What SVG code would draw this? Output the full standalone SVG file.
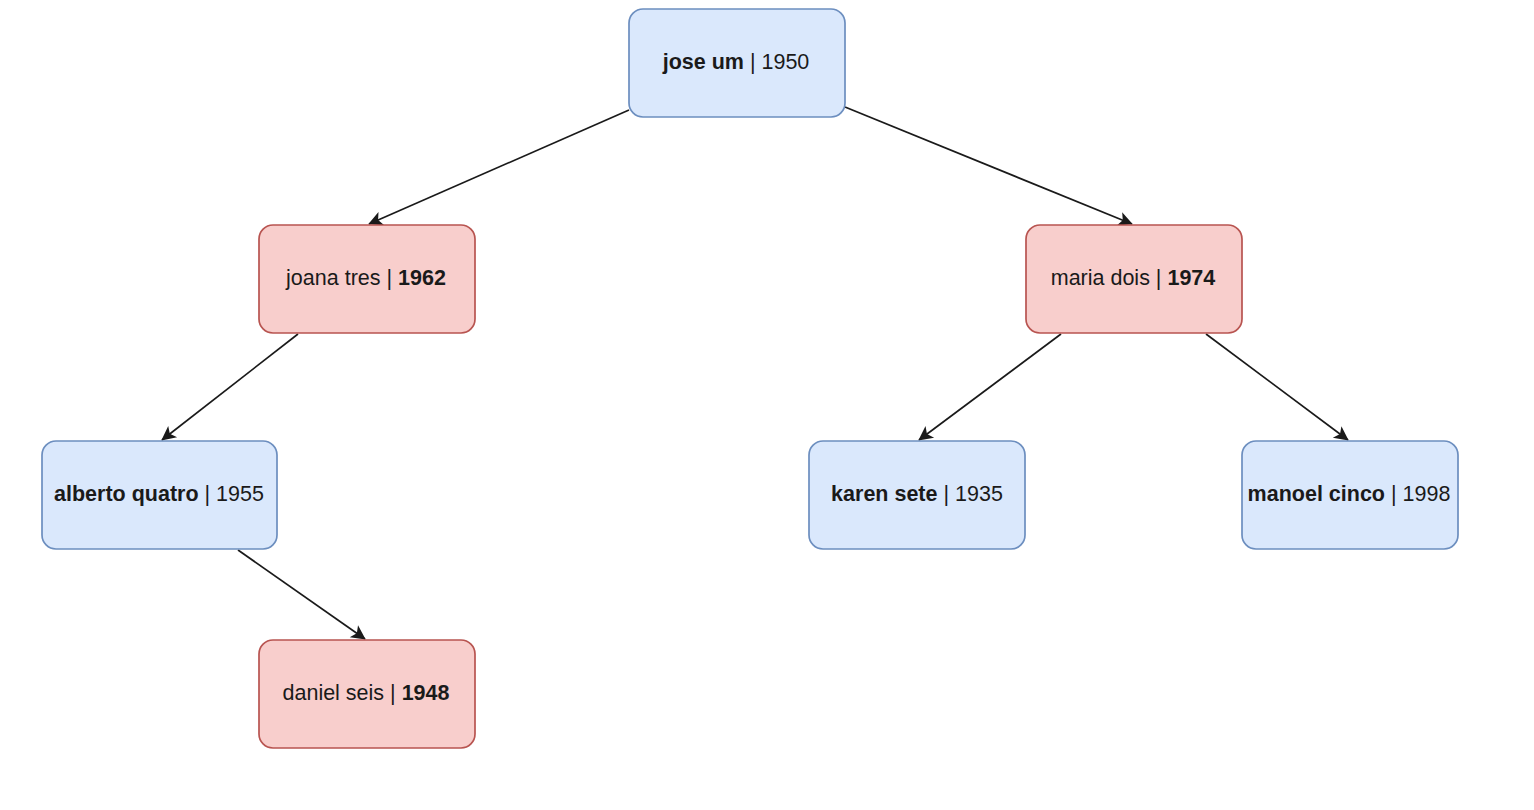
<svg xmlns="http://www.w3.org/2000/svg" width="1534" height="810" viewBox="0 0 1534 810">
<style>
.blue{fill:#dae8fc;stroke:#6c8ebf;stroke-width:1.7}
.red{fill:#f8cecc;stroke:#b85450;stroke-width:1.7}
.t{font-family:"Liberation Sans",Arial,sans-serif;font-size:21.5px;fill:#1a1a1a;text-anchor:middle;dominant-baseline:central}
.b{font-weight:bold}
.e{fill:none;stroke:#1a1a1a;stroke-width:1.7}
</style>
<defs>
<marker id="arr" viewBox="0 0 10 10" refX="9" refY="5" markerWidth="8" markerHeight="8" markerUnits="userSpaceOnUse" orient="auto" overflow="visible">
<path d="M0,0 L10,5 L0,10 L2.5,5 Z" fill="#1a1a1a" transform="scale(1.8) translate(-4.4,-2.2)"/>
</marker>
</defs>
<rect width="1534" height="810" fill="#ffffff"/>
<g id="connectors">
<line class="e" x1="629" y1="110" x2="369" y2="224" marker-end="url(#arr)"/>
<line class="e" x1="845" y1="107" x2="1132" y2="224" marker-end="url(#arr)"/>
<line class="e" x1="298" y1="334" x2="162" y2="440" marker-end="url(#arr)"/>
<line class="e" x1="1061" y1="334" x2="919" y2="440" marker-end="url(#arr)"/>
<line class="e" x1="1206" y1="334" x2="1348" y2="440" marker-end="url(#arr)"/>
<line class="e" x1="238" y1="550" x2="365" y2="639" marker-end="url(#arr)"/>
</g>
<g id="jose">
<rect class="blue" x="629" y="9" width="216" height="108" rx="14"/>
<text class="t" x="736" y="62"><tspan class="b">jose um</tspan> | 1950</text>
</g>
<g id="joana">
<rect class="red" x="259" y="225" width="216" height="108" rx="14"/>
<text class="t" x="366" y="278">joana tres | <tspan class="b">1962</tspan></text>
</g>
<g id="maria">
<rect class="red" x="1026" y="225" width="216" height="108" rx="14"/>
<text class="t" x="1133" y="278">maria dois | <tspan class="b">1974</tspan></text>
</g>
<g id="alberto">
<rect class="blue" x="42" y="441" width="235" height="108" rx="14"/>
<text class="t" x="159" y="494"><tspan class="b">alberto quatro</tspan> | 1955</text>
</g>
<g id="karen">
<rect class="blue" x="809" y="441" width="216" height="108" rx="14"/>
<text class="t" x="917" y="494"><tspan class="b">karen sete</tspan> | 1935</text>
</g>
<g id="manoel">
<rect class="blue" x="1242" y="441" width="216" height="108" rx="14"/>
<text class="t" x="1349" y="494"><tspan class="b">manoel cinco</tspan> | 1998</text>
</g>
<g id="daniel">
<rect class="red" x="259" y="640" width="216" height="108" rx="14"/>
<text class="t" x="366" y="693">daniel seis | <tspan class="b">1948</tspan></text>
</g>
</svg>
